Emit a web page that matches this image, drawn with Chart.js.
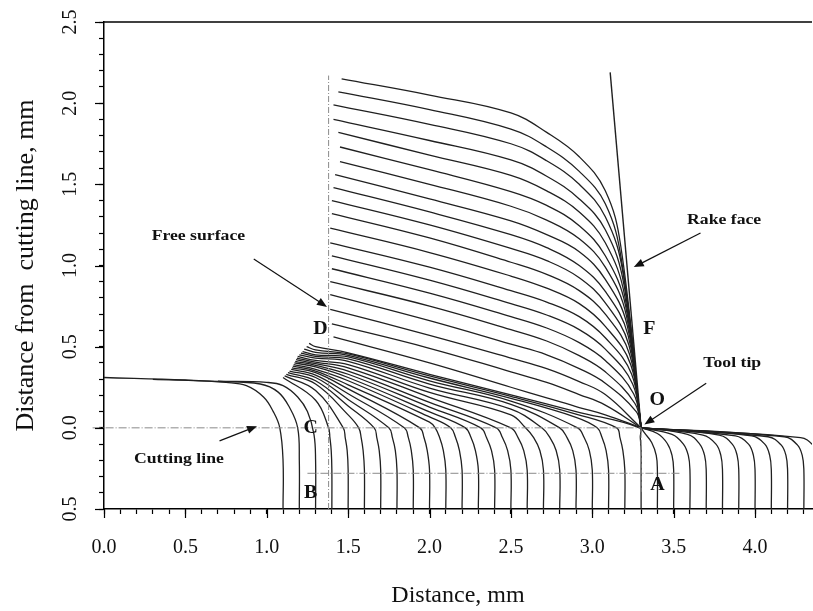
<!DOCTYPE html>
<html>
<head>
<meta charset="utf-8">
<script src="https://cdn.jsdelivr.net/npm/chart.js@4.4.0/dist/chart.umd.min.js"></script>
<style>
  body { margin: 0; background: #fff; }
  #wrap { width: 813px; height: 611px; }
</style>
</head>
<body>
<div id="wrap"><canvas id="flow-chart" width="813" height="611"></canvas></div>
<script>
// --- lines that curl back onto the uncut surface (bottom x = 1.1, 1.2, 1.3)
const leftLines = [
  [[0.0, 0.31], [0.5, 0.295], [0.75, 0.28], [0.875, 0.26], [0.98, 0.19], [1.04, 0.10], [1.08, 0.0], [1.10, -0.2], [1.10, -0.5]],
  [[0.3, 0.298], [0.7, 0.286], [0.96, 0.27], [1.07, 0.22], [1.14, 0.125], [1.19, 0.0], [1.20, -0.2], [1.20, -0.5]],
  [[0.7, 0.287], [1.0, 0.28], [1.10, 0.26], [1.19, 0.19], [1.25, 0.10], [1.29, -0.04], [1.30, -0.2], [1.30, -0.5]]
]

// --- lines in the shear zone (bottom x 1.4 .. 3.3), fan points read at x = 1.3, 1.5, 2.0, 2.5, 2.9
const fanBaseX = [1.4, 1.5, 1.6, 1.7, 1.8, 1.9, 2.0, 2.1, 2.2, 2.3, 2.4, 2.5, 2.6, 2.7, 2.8, 2.9, 3.0, 3.1, 3.2, 3.3]
const fanEndX = [1.10, 1.11, 1.12, 1.13, 1.14, 1.15, 1.155, 1.16, 1.165, 1.17, 1.175, 1.18, 1.185, 1.19, 1.20, 1.21, 1.22, 1.23, 1.245, 1.26]
const fanEndY = [0.31, 0.32, 0.33, 0.34, 0.35, 0.36, 0.37, 0.38, 0.39, 0.40, 0.41, 0.42, 0.43, 0.44, 0.45, 0.46, 0.47, 0.485, 0.50, 0.52]
const fanColX = [1.3, 1.5, 2.0, 2.5, 2.9]
const fanY13 = [0.17, 0.23, 0.27, 0.29, 0.31, 0.325, 0.34, 0.35, 0.36, 0.375, 0.385, 0.395, 0.405, 0.415, 0.43, 0.44, 0.45, 0.465, 0.48, 0.50]
const fanY15 = [null, null, 0.08, 0.135, 0.175, 0.21, 0.24, 0.265, 0.29, 0.31, 0.33, 0.35, 0.37, 0.39, 0.41, 0.425, 0.437, 0.447, 0.455, 0.462]
const fanY20 = [null, null, null, null, null, null, null, 0.035, 0.067, 0.098, 0.128, 0.157, 0.188, 0.218, 0.245, 0.27, 0.29, 0.307, 0.32, 0.33]
const fanY25 = [null, null, null, null, null, null, null, null, null, null, null, null, null, 0.08, 0.115, 0.145, 0.165, 0.182, 0.194, 0.203]
const fanY29 = [null, null, null, null, null, null, null, null, null, null, null, null, null, null, null, null, null, 0.065, 0.085, 0.10]
// x of each line at the cutting line (y = 0) and at y = -0.06, -0.14 as it turns vertical
const fanCrossX = [1.38, 1.47, 1.565, 1.66, 1.75, 1.845, 1.94, 2.035, 2.13, 2.22, 2.315, 2.41, 2.50, 2.59, 2.69, 2.80, 2.91, 3.03, 3.15, 3.29]
const fanBend1X = [1.388, 1.482, 1.58, 1.676, 1.772, 1.87, 1.966, 2.062, 2.16, 2.255, 2.35, 2.448, 2.544, 2.64, 2.74, 2.845, 2.95, 3.06, 3.17, 3.295]
const fanBend2X = [1.396, 1.494, 1.592, 1.691, 1.79, 1.888, 1.986, 2.085, 2.184, 2.282, 2.381, 2.48, 2.579, 2.678, 2.778, 2.88, 2.982, 3.085, 3.188, 3.30]
const fanBend1Y = -0.06
const fanBend2Y = -0.14

// --- lines that passed under the tool tip (bottom x 3.4 .. 4.4)
const passBaseX = [3.4, 3.5, 3.6, 3.7, 3.8, 3.9, 4.0, 4.1, 4.2, 4.3, 4.4]
const passBandX = [3.32, 3.40, 3.49, 3.585, 3.68, 3.78, 3.88, 3.98, 4.08, 4.18, 4.28]
const passBandY = [-0.03, -0.035, -0.04, -0.04, -0.045, -0.045, -0.05, -0.05, -0.055, -0.055, -0.06]
const passBend1X = [3.365, 3.46, 3.56, 3.66, 3.76, 3.86, 3.96, 4.06, 4.16, 4.26, 4.36]
const passBend1Y = [-0.09, -0.095, -0.10, -0.10, -0.10, -0.10, -0.10, -0.10, -0.105, -0.105, -0.11]
const passBend2X = [3.393, 3.49, 3.59, 3.69, 3.79, 3.89, 3.99, 4.09, 4.19, 4.29, 4.39]
const passBend2Y = -0.17
const straightY = -0.26
const bottomY = -0.5

// --- chip lines: free surface -> rake face -> tool tip, read at x = 2.0, 2.5, 2.72, 2.92, 3.08
const chipX0 = [1.46, 1.44, 1.41, 1.41, 1.44, 1.45, 1.45, 1.42, 1.41, 1.40, 1.40, 1.39, 1.39, 1.40, 1.40, 1.39, 1.39, 1.39, 1.40, 1.41]
const chipY0 = [2.15, 2.07, 1.99, 1.90, 1.82, 1.73, 1.64, 1.56, 1.48, 1.40, 1.32, 1.23, 1.14, 1.06, 0.98, 0.90, 0.82, 0.73, 0.64, 0.56]
const chipColX = [2.0, 2.5, 2.72, 2.92, 3.08]
const chipY20 = [2.05, 1.96, 1.87, 1.77, 1.68, 1.59, 1.50, 1.41, 1.33, 1.25, 1.17, 1.08, 0.99, 0.91, 0.83, 0.75, 0.66, 0.57, 0.49, 0.40]
const chipY25 = [1.94, 1.84, 1.75, 1.65, 1.555, 1.455, 1.365, 1.275, 1.19, 1.105, 1.02, 0.935, 0.845, 0.765, 0.685, 0.605, 0.515, 0.43, 0.345, 0.25]
const chipY27 = [1.82, 1.73, 1.645, 1.55, 1.46, 1.37, 1.28, 1.19, 1.11, 1.03, 0.945, 0.86, 0.775, 0.695, 0.615, 0.535, 0.45, 0.365, 0.28, 0.185]
const chipY29 = [1.67, 1.58, 1.50, 1.41, 1.33, 1.245, 1.165, 1.085, 1.00, 0.925, 0.845, 0.765, 0.685, 0.605, 0.525, 0.445, 0.365, 0.285, 0.205, 0.125]
const chipY31 = [1.46, 1.38, 1.30, 1.22, 1.14, 1.06, 0.99, 0.915, 0.84, 0.77, 0.70, 0.625, 0.555, 0.485, 0.415, 0.345, 0.275, 0.205, 0.14, 0.08]
const chipRakeX = [3.175, 3.18, 3.19, 3.195, 3.20, 3.205, 3.21, 3.215, 3.22, 3.225, 3.23, 3.236, 3.242, 3.248, 3.254, 3.262, 3.27, null, null, null]
const chipRakeY = [1.12, 1.03, 0.95, 0.88, 0.81, 0.75, 0.69, 0.63, 0.57, 0.51, 0.45, 0.39, 0.33, 0.27, 0.21, 0.15, 0.10, null, null, null]
const toolTip = [3.30, 0.0]
const rakeTop = [3.11, 2.19]

// --- construction lines
const freeSurface = [[1.38, -0.5], [1.38, 2.17]]
const cuttingLine = [[-0.07, 0.0], [3.30, 0.0]]
const lineBA = [[1.25, -0.28], [3.54, -0.28]]
const lineOA = [[3.30, 0.0], [3.30, -0.40]]

const lineColor = '#202020'
const guideColor = '#8a8a8a'
const datasets = []

function addLine(points, extra) {
  datasets.push(Object.assign({
    data: points.map(p => ({x: p[0], y: p[1]})),
    borderColor: lineColor,
    borderWidth: 1.3,
    pointRadius: 0,
    tension: 0.4,
    fill: false
  }, extra || {}))
}

addLine(freeSurface, {borderColor: guideColor, borderWidth: 1, borderDash: [6, 2, 1, 2], tension: 0})
addLine(cuttingLine, {borderColor: guideColor, borderWidth: 1, borderDash: [8, 2, 1, 2], tension: 0, clip: {left: 14, top: 0, right: 0, bottom: 0}})
addLine(lineBA, {borderColor: guideColor, borderWidth: 1, borderDash: [8, 2, 1, 2], tension: 0})
addLine(lineOA, {borderColor: guideColor, borderWidth: 1, borderDash: [4, 2], tension: 0})

leftLines.forEach(l => addLine(l))

fanBaseX.forEach((xb, i) => {
  const pts = [[fanEndX[i], fanEndY[i]], [fanColX[0], fanY13[i]]]
  const cols = [fanY15[i], fanY20[i], fanY25[i], fanY29[i]]
  cols.forEach((v, k) => { if (v !== null) pts.push([fanColX[k + 1], v]) })
  pts.push(
    [fanCrossX[i], 0.0],
    [fanBend1X[i], fanBend1Y],
    [fanBend2X[i], fanBend2Y],
    [xb, straightY],
    [xb, bottomY]
  )
  addLine(pts)
})

passBaseX.forEach((xb, i) => {
  addLine([
    toolTip,
    [passBandX[i], passBandY[i]],
    [passBend1X[i], passBend1Y[i]],
    [passBend2X[i], passBend2Y],
    [xb, straightY],
    [xb, bottomY]
  ])
})

chipY0.forEach((y0, i) => {
  const pts = [
    [chipX0[i], y0],
    [chipColX[0], chipY20[i]],
    [chipColX[1], chipY25[i]],
    [chipColX[2], chipY27[i]],
    [chipColX[3], chipY29[i]],
    [chipColX[4], chipY31[i]]
  ]
  if (chipRakeX[i] !== null) pts.push([chipRakeX[i], chipRakeY[i]])
  pts.push(toolTip)
  addLine(pts)
})

addLine([rakeTop, toolTip], {borderWidth: 1.4, tension: 0})

// text labels and arrows (data coordinates)
const notes = [
  ['Free surface', 0.58, 1.18, 15],
  ['Rake face', 3.81, 1.28, 15],
  ['Tool tip', 3.86, 0.40, 15],
  ['Cutting line', 0.46, -0.19, 15],
  ['D', 1.33, 0.61, 19],
  ['F', 3.35, 0.61, 19],
  ['O', 3.40, 0.17, 19],
  ['C', 1.27, 0.0, 19],
  ['B', 1.27, -0.40, 19],
  ['A', 3.40, -0.35, 19]
]
const arrows = [
  [0.92, 1.04, 1.37, 0.745],
  [3.665, 1.20, 3.255, 0.99],
  [3.70, 0.275, 3.32, 0.02],
  [0.71, -0.08, 0.94, 0.01]
]

const annotate = {
  id: 'annotate',
  afterDatasetsDraw(chart) {
    const {ctx, scales: {x, y}} = chart
    ctx.save()
    ctx.fillStyle = '#111'
    ctx.textAlign = 'center'
    ctx.textBaseline = 'middle'
    notes.forEach(n => {
      ctx.save()
      ctx.translate(x.getPixelForValue(n[1]), y.getPixelForValue(n[2]))
      ctx.scale(n[0].length > 1 ? 1.18 : 1.05, 1)
      ctx.font = 'bold ' + n[3] + 'px "Liberation Serif"'
      ctx.fillText(n[0], 0, 0)
      ctx.restore()
    })
    ctx.strokeStyle = '#111'
    ctx.lineWidth = 1.2
    arrows.forEach(a => {
      const x1 = x.getPixelForValue(a[0]), y1 = y.getPixelForValue(a[1])
      const x2 = x.getPixelForValue(a[2]), y2 = y.getPixelForValue(a[3])
      const ang = Math.atan2(y2 - y1, x2 - x1)
      ctx.beginPath()
      ctx.moveTo(x1, y1)
      ctx.lineTo(x2 - 6 * Math.cos(ang), y2 - 6 * Math.sin(ang))
      ctx.stroke()
      ctx.beginPath()
      ctx.moveTo(x2, y2)
      ctx.lineTo(x2 - 10 * Math.cos(ang) + 4 * Math.sin(ang), y2 - 10 * Math.sin(ang) - 4 * Math.cos(ang))
      ctx.lineTo(x2 - 10 * Math.cos(ang) - 4 * Math.sin(ang), y2 - 10 * Math.sin(ang) + 4 * Math.cos(ang))
      ctx.closePath()
      ctx.fill()
    })
    ctx.restore()
  },
  afterDraw(chart) {
    const {ctx, chartArea: {top, left, right, bottom}, scales: {x, y}} = chart
    ctx.save()
    ctx.strokeStyle = '#000'
    ctx.lineWidth = 1.5
    ctx.beginPath()
    ctx.moveTo(left, top)
    ctx.lineTo(right, top)
    ctx.stroke()
    ctx.lineWidth = 1.2
    for (let v = 0; v <= 8; v++) {
      const px = Math.round(x.getPixelForValue(v * 0.5)) + 0.5
      ctx.beginPath()
      ctx.moveTo(px, bottom)
      ctx.lineTo(px, bottom + 9)
      ctx.stroke()
    }
    for (let v = -1; v <= 5; v++) {
      const py = Math.round(y.getPixelForValue(v * 0.5)) + 0.5
      ctx.beginPath()
      ctx.moveTo(left, py)
      ctx.lineTo(left - 9, py)
      ctx.stroke()
    }
    ctx.restore()
  }
}

function isMajor(v) {
  return Math.abs(Math.round(v * 10)) % 5 === 0
}

function noPadding(scale) {
  scale.paddingLeft = 0
  scale.paddingRight = 0
  scale.paddingTop = 0
  scale.paddingBottom = 0
}

Chart.defaults.font.family = '"Liberation Serif", "Times New Roman", serif'
Chart.defaults.color = '#111'

new Chart(document.getElementById('flow-chart'), {
  type: 'line',
  data: {datasets: datasets},
  options: {
    responsive: false,
    animation: false,
    devicePixelRatio: 1,
    layout: {padding: {top: 22, right: 1, left: 0, bottom: 0}},
    plugins: {legend: {display: false}, tooltip: {enabled: false}},
    scales: {
      x: {
        type: 'linear',
        min: 0,
        max: 4.35,
        afterFit(scale) { scale.height = 102; noPadding(scale) },
        border: {display: true, color: '#000', width: 1.5},
        grid: {display: true, drawOnChartArea: false, drawTicks: true, tickLength: 5, tickColor: '#000', tickWidth: 1.2},
        ticks: {
          stepSize: 0.1,
          autoSkip: false,
          includeBounds: false,
          maxRotation: 0,
          padding: 22,
          font: {size: 20},
          color: '#111',
          callback: v => isMajor(v) ? Math.abs(v).toFixed(1) : ''
        },
        title: {display: true, text: 'Distance, mm', font: {size: 24}, color: '#111', padding: {top: 0, bottom: 1}}
      },
      y: {
        type: 'linear',
        min: -0.5,
        max: 2.5,
        afterFit(scale) { scale.width = 104; noPadding(scale) },
        border: {display: true, color: '#000', width: 1.5},
        grid: {display: true, drawOnChartArea: false, drawTicks: true, tickLength: 5, tickColor: '#000', tickWidth: 1.2},
        ticks: {
          stepSize: 0.1,
          autoSkip: false,
          includeBounds: false,
          minRotation: 90,
          maxRotation: 90,
          crossAlign: 'center',
          padding: 16,
          font: {size: 20},
          color: '#111',
          callback: v => isMajor(v) ? Math.abs(v).toFixed(1) : ''
        },
        title: {display: true, text: 'Distance from  cutting line, mm', font: {size: 26}, color: '#111', padding: {top: 11, bottom: 0}}
      }
    }
  },
  plugins: [annotate]
})
</script>
</body>
</html>
